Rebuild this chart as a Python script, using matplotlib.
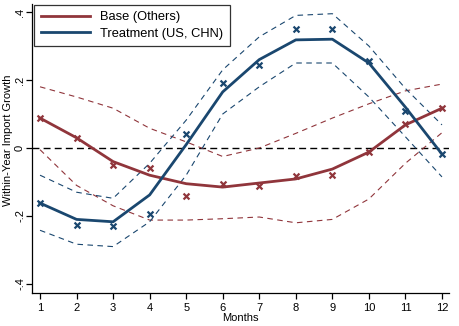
import matplotlib
matplotlib.use("Agg")
import matplotlib.pyplot as plt
from matplotlib.lines import Line2D

months = list(range(1, 13))

# Base group (others): fitted line, raw estimates, confidence band
base_fit = [0.088, 0.030, -0.040, -0.080, -0.105, -0.115, -0.103, -0.091, -0.062, -0.012, 0.068, 0.117]
base_pts = [0.088, 0.030, -0.050, -0.060, -0.140, -0.105, -0.113, -0.083, -0.080, -0.012, 0.070, 0.118]
base_hi = [0.180, 0.150, 0.117, 0.058, 0.018, -0.025, 0.000, 0.043, 0.088, 0.130, 0.168, 0.188]
base_lo = [-0.005, -0.110, -0.170, -0.212, -0.212, -0.208, -0.203, -0.220, -0.210, -0.150, -0.045, 0.045]

# Treatment group (US, CHN)
treat_fit = [-0.162, -0.210, -0.217, -0.138, 0.010, 0.165, 0.260, 0.318, 0.320, 0.250, 0.120, -0.018]
treat_pts = [-0.162, -0.227, -0.230, -0.195, 0.040, 0.190, 0.245, 0.350, 0.350, 0.255, 0.110, -0.018]
treat_hi = [-0.080, -0.130, -0.148, -0.045, 0.082, 0.230, 0.327, 0.390, 0.395, 0.300, 0.175, 0.068]
treat_lo = [-0.242, -0.283, -0.290, -0.217, -0.080, 0.100, 0.180, 0.250, 0.250, 0.150, 0.033, -0.085]

yticks = [-0.4, -0.2, 0, 0.2, 0.4]
ytick_labels = ["-.4", "-.2", "0", ".2", ".4"]

red = "#90353B"
blue = "#1A476F"

plt.rcParams["font.family"] = ["Liberation Sans", "DejaVu Sans"]

fig = plt.figure(figsize=(4.59, 3.26), dpi=100)
ax = fig.add_axes([0.0697, 0.1012, 0.9083, 0.8865])

ax.axhline(0, color="black", lw=1.0, ls=(0, (5, 3)), zorder=1)

for hi, lo, c in ((base_hi, base_lo, red), (treat_hi, treat_lo, blue)):
    ax.plot(months, hi, color=c, lw=0.8, ls=(0, (5, 4)))
    ax.plot(months, lo, color=c, lw=0.8, ls=(0, (5, 4)))

ax.plot(months, base_fit, color=red, lw=2.0)
ax.plot(months, treat_fit, color=blue, lw=2.0)
ax.scatter(months, base_pts, marker="x", s=18, color=red, linewidths=1.6, zorder=3)
ax.scatter(months, treat_pts, marker="x", s=18, color=blue, linewidths=1.6, zorder=3)

ax.set_xlim(0.78, 12.19)
ax.set_ylim(-0.4265, 0.4235)
ax.set_xticks(months)
ax.set_yticks(yticks)
ax.set_yticklabels(ytick_labels, rotation=90, va="center")
ax.tick_params(labelsize=8, length=4, width=0.9, direction="out", pad=3)
ax.tick_params(axis="y", pad=1)
for side in ("top", "right"):
    ax.spines[side].set_visible(False)
for side in ("left", "bottom"):
    ax.spines[side].set_linewidth(0.9)

ax.set_xlabel("Months", fontsize=8, labelpad=0)
fig.text(8 / 459, 1 - 140 / 326, "Within-Year Import Growth", fontsize=8,
         rotation=90, ha="center", va="center")

handles = [Line2D([], [], color=red, lw=2.0), Line2D([], [], color=blue, lw=2.0)]
leg = ax.legend(handles, ["Base (Others)", "Treatment (US, CHN)"], loc="upper left",
                bbox_to_anchor=(0.005, 0.997), borderaxespad=0, fontsize=9.3,
                frameon=True, fancybox=False, edgecolor="black", handlelength=3.8,
                borderpad=0.5, labelspacing=0.35, handletextpad=0.8)
leg.get_frame().set_linewidth(0.9)

fig.savefig("out.png", dpi=100)
